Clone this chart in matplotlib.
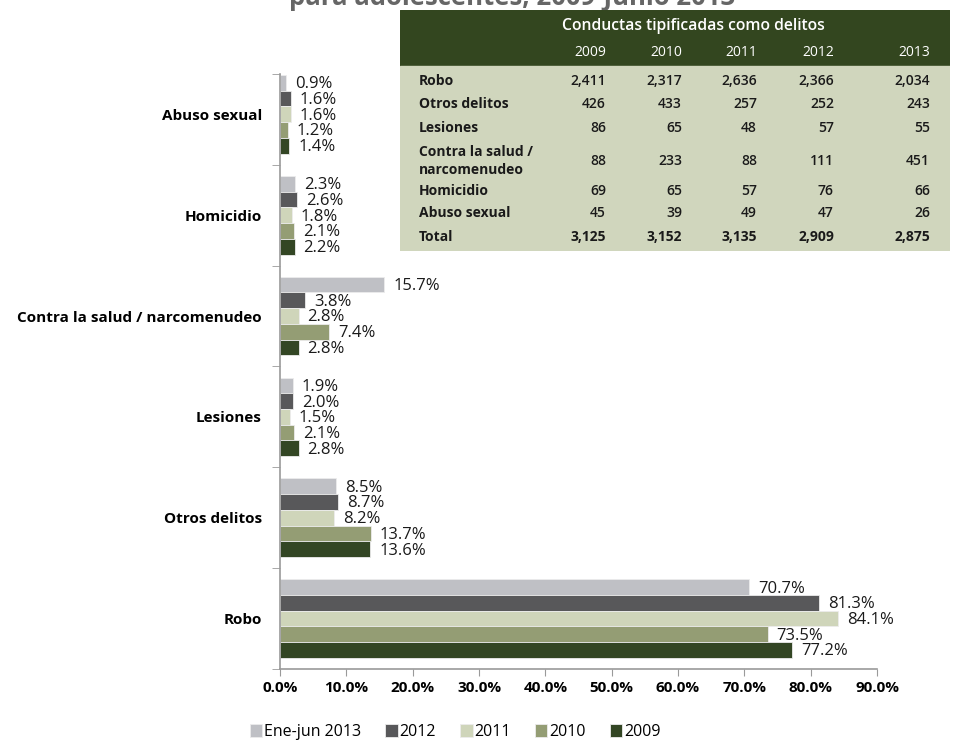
import matplotlib
matplotlib.use("Agg")
import matplotlib.pyplot as plt
from matplotlib.patches import Rectangle
import numpy as np

plt.rcParams['font.family'] = ['Open Sans', 'DejaVu Sans']

# ---------------- data ----------------
categories = ["Robo", "Otros delitos", "Lesiones",
              "Contra la salud / narcomenudeo", "Homicidio", "Abuso sexual"]
series_labels = ["Ene-jun 2013", "2012", "2011", "2010", "2009"]
v_2013 = [70.7, 8.5, 1.9, 15.7, 2.3, 0.9]
v_2012 = [81.3, 8.7, 2.0, 3.8, 2.6, 1.6]
v_2011 = [84.1, 8.2, 1.5, 2.8, 1.8, 1.6]
v_2010 = [73.5, 13.7, 2.1, 7.4, 2.1, 1.2]
v_2009 = [77.2, 13.6, 2.8, 2.8, 2.2, 1.4]
series = [v_2013, v_2012, v_2011, v_2010, v_2009]
x_ticks = [0, 10, 20, 30, 40, 50, 60, 70, 80, 90]

table_title = "Conductas tipificadas como delitos"
table_years = ["2009", "2010", "2011", "2012", "2013"]
table_rows = ["Robo", "Otros delitos", "Lesiones",
              "Contra la salud /\nnarcomenudeo", "Homicidio", "Abuso sexual", "Total"]
t_robo = ["2,411", "2,317", "2,636", "2,366", "2,034"]
t_otros = ["426", "433", "257", "252", "243"]
t_lesiones = ["86", "65", "48", "57", "55"]
t_contra = ["88", "233", "88", "111", "451"]
t_homicidio = ["69", "65", "57", "76", "66"]
t_abuso = ["45", "39", "49", "47", "26"]
t_total = ["3,125", "3,152", "3,135", "2,909", "2,875"]
table_values = [t_robo, t_otros, t_lesiones, t_contra, t_homicidio, t_abuso, t_total]

partial_title = "para adolescentes, 2009-Junio 2013"

# ---------------- style ----------------
colors = ["#bfc0c5", "#58585a", "#cfd5ba", "#949d74", "#334624"]
hdr_color = "#33461f"
body_color = "#d0d6bd"
spine_color = "#9a9a9a"

W, H = 958, 742
fig = plt.figure(figsize=(W / 100, H / 100), dpi=100)

ax = fig.add_axes([280 / W, (H - 669) / H, 597 / W, (669 - 74) / H])
h = 0.156
y = np.arange(len(categories))
offsets = [2 * h, h, 0, -h, -2 * h]
handles = []
for vals, lab, col, off in zip(series, series_labels, colors, offsets):
    bars = ax.barh(y + off, vals, height=h, color=col, edgecolor="#ececec",
                   linewidth=0.6, label=lab)
    handles.append(bars)
    for b, v in zip(bars, vals):
        ax.annotate(f"{v:.1f}%", (v, b.get_y() + h / 2), xytext=(6.5, -1),
                    textcoords="offset points", ha="left", va="center",
                    fontsize=12, color="#1a1a1a")

ax.set_xlim(0, 90)
ax.set_ylim(-0.5, 5.4)
ax.set_xticks(x_ticks)
ax.set_xticklabels([f"{t:.1f}%" for t in x_ticks], fontweight="bold", fontsize=11)
ax.set_yticks(y)
ax.set_yticklabels(categories, fontweight="bold", fontsize=11)
ax.set_yticks(list(np.arange(-0.5, 5.0, 1.0)) + [5.4], minor=True)
ax.tick_params(axis="y", which="major", length=0, pad=13)
ax.tick_params(axis="y", which="minor", length=6, color=spine_color, direction="out")
ax.tick_params(axis="x", length=5, color=spine_color, pad=4)
for s in ["top", "right"]:
    ax.spines[s].set_visible(False)
for s in ["left", "bottom"]:
    ax.spines[s].set_color(spine_color)
    ax.spines[s].set_linewidth(1.2)

# legend
fig.legend(handles=handles, labels=series_labels, loc="center",
           bbox_to_anchor=(455 / W, 10 / H), ncol=5, frameon=False,
           fontsize=11.5, handlelength=0.8, handleheight=0.8,
           handletextpad=0.1, columnspacing=1.5, borderaxespad=0,
           borderpad=0.1)

# title of the source figure, cut at the top edge as in the reference
fig.text(512 / W, 1 - 5 / H, partial_title, ha="center", va="baseline",
         fontsize=18.5, fontweight="bold", color="#666666")

# ---------------- table ----------------
tx0, ty0, tw, th = 400, 10, 550, 241
tax = fig.add_axes([tx0 / W, (H - ty0 - th) / H, tw / W, th / H])
tax.set_zorder(5)
tax.set_xlim(0, tw)
tax.set_ylim(th, 0)
tax.axis("off")
tax.add_patch(Rectangle((0, 0), tw, 56, color=hdr_color))
tax.add_patch(Rectangle((0, 56), tw, th - 56, color=body_color))

tax.text(293, 16, table_title, ha="center", va="center", color="white",
         fontsize=11.3, fontweight="semibold")
col_right = [206, 282, 357, 434, 530]
for yr, xr in zip(table_years, col_right):
    tax.text(xr, 43, yr, ha="right", va="center", color="white", fontsize=10)

row_y = [71, 94, 118, 151, 181, 203, 227]
for rl, ry, vals in zip(table_rows, row_y, table_values):
    tax.text(19, ry, rl, ha="left", va="center", color="#1a1a1a",
             fontsize=10, fontweight="bold", linespacing=1.35)
    wt = "bold" if rl == "Total" else "semibold"
    for v, xr in zip(vals, col_right):
        tax.text(xr, ry, v, ha="right", va="center", color="#1a1a1a",
                 fontsize=10, fontweight=wt)

fig.savefig("out.png", dpi=100)
